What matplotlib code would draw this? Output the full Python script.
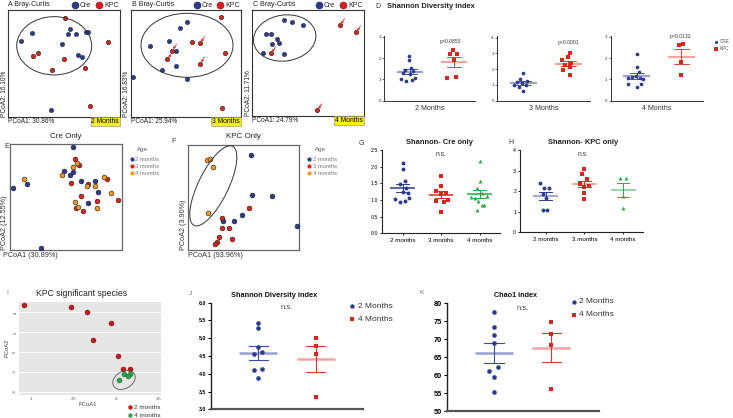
import numpy as np
import matplotlib
matplotlib.use('Agg')
import matplotlib.pyplot as plt
from matplotlib.patches import Ellipse

plt.rcParams['font.family'] = ['Liberation Sans', 'DejaVu Sans']

# ---------------- data ----------------
# A-C: Bray-Curtis PCoA scores (positions)
A_cre_x = [31.7, 20.7, 69.7, 67.7, 76, 86, 87.7, 62.3, 78, 82, 50.7]
A_cre_y = [33.3, 41, 29.3, 33.7, 34, 31.7, 32.3, 43.7, 54.7, 56.7, 110]
A_kpc_x = [65, 108.3, 32.7, 38.3, 64.3, 51.7, 85, 90]
A_kpc_y = [18.3, 41.7, 55.7, 52.7, 59, 70, 68.3, 105.7]

B_cre_x = [133.3, 149.7, 169, 176, 180, 186.7, 162, 176, 186.7]
B_cre_y = [76.7, 46, 40.7, 51, 28.3, 22.3, 69.7, 66.3, 79.3]
B_kpc_x = [220.7, 224.7, 172, 167.3, 200, 200, 221.7, 192]
B_kpc_y = [17.3, 53.3, 50.7, 59.3, 43.3, 63.7, 108.3, 42.3]
B_arrows = [2, 3, 4, 5]

C_cre_x = [284, 291.7, 302.7, 266, 271, 276.7, 272, 278.7, 263.3, 284]
C_cre_y = [20, 21.7, 25, 33.7, 33.7, 38.7, 44.3, 43.3, 53, 54]
C_kpc_x = [271, 340, 356, 317.3]
C_kpc_y = [53.3, 25.3, 32.3, 110.3]
C_arrows = [0, 1, 2, 3]

# E, F: PCoA by age
E_m2_x = [73.3, 12.7, 27.3, 64, 70.3, 73.3, 81, 95, 98.3, 88.3, 40.7]
E_m2_y = [146.7, 188.3, 184.3, 170.7, 174.7, 172, 180.7, 181.3, 192, 203.3, 248.3]
E_m3_x = [75, 79, 71, 88.3, 80.7, 97.3, 75.7, 83, 117.7, 106.7]
E_m3_y = [159.3, 165, 183.3, 184, 196, 201, 208.3, 210.7, 200.3, 179.3]
E_m4_x = [24.3, 73.3, 76.7, 62.3, 95, 87.3, 104.3, 111, 75.3, 78.3, 96.7]
E_m4_y = [178.7, 167.3, 162.7, 175.3, 185.7, 185.7, 177.3, 192.7, 201.7, 206.7, 207.7]

F_m2_x = [250.7, 252.3, 271.7, 296.7, 241.7, 234.3, 222.7]
F_m2_y = [155.3, 195, 196, 225.7, 215, 221, 221]
F_m3_x = [249, 221.7, 221.7, 229, 219.3, 232.3, 216.7, 215]
F_m3_y = [208.3, 217.7, 227.7, 227.7, 236.7, 239.3, 242.3, 244]
F_m4_x = [206.7, 210, 213.3, 208.3]
F_m4_y = [160, 159, 166.7, 212.7]

# D: Shannon diversity Cre vs KPC
D_months = ['2 Months', '3 Months', '4 Months']
D_cre = [[2.11, 1.91, 1.52, 1.45, 1.38, 1.28, 1.25, 1.05, 1.0, 0.95, 0.93],
         [1.73, 1.37, 1.26, 1.2, 1.09, 0.99, 0.99, 0.88, 0.61],
         [2.17, 1.56, 1.33, 1.16, 1.1, 1.05, 1.05, 1.0, 0.78, 0.78, 0.66]]
D_cre_dx = [[-0.03, -0.03, 0.02, -0.1, 0.08, -0.16, 0.0, 0.12, -0.2, 0.05, -0.08],
            [0.0, -0.08, 0.08, -0.15, -0.03, -0.22, 0.05, -0.1, 0.0],
            [0.0, 0.0, 0.05, -0.02, -0.1, 0.08, -0.2, 0.15, -0.2, 0.1, 0.0]]
D_kpc = [[2.38, 2.17, 2.17, 1.91, 1.08, 1.09],
         [3.03, 2.74, 2.57, 2.42, 2.25, 2.15, 1.94, 1.6],
         [2.61, 2.64, 1.8, 1.2]]
D_kpc_dx = [[-0.02, -0.08, 0.08, 0.0, -0.16, 0.05],
            [0.04, 0.0, -0.15, 0.06, -0.07, 0.03, -0.12, 0.04],
            [-0.06, 0.04, 0.0, 0.0]]
D_p = ['p=0.0853', 'p<0.0001', 'p=0.0132']

# G, H: Shannon within genotype by age
GH_ages = ['2 months', '3 months', '4 months']
G_vals = [[2.12, 1.93, 1.56, 1.47, 1.35, 1.25, 1.2, 1.05, 1.02, 0.97, 0.93],
          [1.73, 1.42, 1.27, 1.2, 1.18, 0.97, 0.95, 0.99, 0.65],
          [2.16, 1.58, 1.35, 1.22, 1.08, 1.12, 1.05, 0.97, 0.84, 0.85, 0.7]]
G_dx = [[0.0, 0.0, 0.06, -0.07, 0.1, 0.02, 0.14, 0.18, -0.19, 0.06, -0.07],
        [0.0, 0.0, -0.12, 0.12, 0.0, -0.12, 0.07, 0.17, 0.0],
        [0.0, 0.0, -0.07, 0.06, -0.22, 0.18, -0.11, -0.04, 0.06, 0.12, -0.07]]
H_vals = [[2.41, 2.17, 2.17, 1.86, 1.65, 1.1, 1.08],
          [3.06, 2.82, 2.57, 2.33, 2.22, 2.27, 1.93, 1.62],
          [2.62, 2.66, 1.78, 1.2]]
H_dx = [[-0.14, -0.03, 0.09, -0.08, 0.02, 0.04, -0.07],
        [0.0, -0.07, 0.07, -0.11, 0.0, 0.12, 0.0, 0.0],
        [-0.07, 0.06, 0.0, 0.0]]

# I: KPC significant species PCoA
I_m2_x = [0.191, 0.247, 0.266, 0.294, 0.273, 0.302, 0.308, 0.317]
I_m2_y = [0.473, 0.45, 0.403, 0.29, 0.12, -0.034, -0.167, -0.17]
I_m4_x = [0.309, 0.317, 0.314, 0.303]
I_m4_y = [-0.224, -0.22, -0.244, -0.284]

# J, K: 2 vs 4 months
JK_groups = ['2 Months', '4 Months']
J_m2 = [5.42, 5.28, 4.76, 4.55, 4.6, 4.1, 4.14, 3.88]
J_m2_dx = [0, 0, 0, -0.08, 0.07, -0.08, 0.07, 0]
J_m4 = [5.0, 4.79, 4.56, 3.35]
K_m2 = [77.6, 73.4, 71.1, 68.9, 61.2, 62.3, 59.4, 55.4]
K_m2_dx = [0, 0, 0, 0, -0.08, 0.07, 0, 0]
K_m4 = [74.7, 71.5, 68.3, 56.1]

# ---------------- style ----------------
BLUE = '#2d3b8e'
RED = '#d8261e'
ORANGE = '#f39a1e'
GREEN = '#2ea84a'
LBLUE = '#98a1d2'
PINK = '#f3a3a0'
LGREEN = '#8fd49c'
EDGE = '#1a1a1a'

W, H = 733, 418
fig = plt.figure(figsize=(W / 100, H / 100), dpi=100)


def ax_px(x0, y0, x1, y1):
    return fig.add_axes([x0 / W, 1 - y1 / H, (x1 - x0) / W, (y1 - y0) / H])


def pcoa_box(x0, y0, x1, y1, edge='#333333', lw=0.8):
    ax = ax_px(x0, y0, x1, y1)
    ax.set_xlim(x0, x1)
    ax.set_ylim(y1, y0)
    ax.set_xticks([])
    ax.set_yticks([])
    for s in ax.spines.values():
        s.set_color(edge)
        s.set_linewidth(lw)
    return ax


def mean_sem(ax, x, vals, lcol, ecol, hm, hc, lwm=1.8, lwe=0.7):
    v = np.asarray(vals, float)
    m = v.mean()
    s = v.std(ddof=1) / np.sqrt(len(v))
    ax.plot([x - hm, x + hm], [m, m], color=lcol, lw=lwm, solid_capstyle='butt', zorder=2, clip_on=False)
    ax.plot([x, x], [m - s, m + s], color=ecol, lw=lwe, zorder=2, clip_on=False)
    for yy in (m - s, m + s):
        ax.plot([x - hc, x + hc], [yy, yy], color=ecol, lw=lwe, zorder=2, clip_on=False)


# ---------- A-C ----------
boxes_ABC = [(8, 10, 120, 117), (131, 10, 240.7, 117), (252.3, 10, 364, 116)]
data_ABC = [(A_cre_x, A_cre_y, A_kpc_x, A_kpc_y, []),
            (B_cre_x, B_cre_y, B_kpc_x, B_kpc_y, B_arrows),
            (C_cre_x, C_cre_y, C_kpc_x, C_kpc_y, C_arrows)]
axes_ABC = []
for box, (cx, cy, kx, ky, arr) in zip(boxes_ABC, data_ABC):
    ax = pcoa_box(*box)
    ax.scatter(cx, cy, s=10, c=BLUE, edgecolors=EDGE, linewidths=0.3, zorder=3, clip_on=False)
    ax.scatter(kx, ky, s=10, c=RED, edgecolors=EDGE, linewidths=0.4, zorder=3, clip_on=False)
    for i in arr:
        ax.annotate('', xy=(kx[i] + 1.2, ky[i] - 1.5), xytext=(kx[i] + 4.5, ky[i] - 6.5),
                    arrowprops=dict(arrowstyle='-|>', color='#ee2020', lw=0.6,
                                    mutation_scale=3, shrinkA=0, shrinkB=0))
    axes_ABC.append(ax)

# ---------- E, F ----------
axE = pcoa_box(10, 144, 121.7, 250, edge='#666666', lw=0.9)
axF = pcoa_box(188.3, 144.7, 299, 250, edge='#666666', lw=0.9)
for ax, sets in ((axE, [(E_m2_x, E_m2_y, BLUE), (E_m3_x, E_m3_y, RED), (E_m4_x, E_m4_y, ORANGE)]),
                 (axF, [(F_m2_x, F_m2_y, BLUE), (F_m3_x, F_m3_y, RED), (F_m4_x, F_m4_y, ORANGE)])):
    for xs, ys, col in sets:
        ax.scatter(xs, ys, s=12, c=col, edgecolors=EDGE, linewidths=0.4, zorder=3, clip_on=False)

# ---------- D ----------
D_boxes = [(384.3, 35.7, 475, 100.7), (497.3, 36.3, 590, 100.7), (610.7, 35.7, 703, 100.7)]
D_ylims = [(0, 3.05), (0, 4.08), (0, 3.05)]
D_ticks = [[0, 1, 2, 3], [0, 1, 2, 3, 4], [0, 1, 2, 3]]
D_axes = []
for k in range(3):
    ax = ax_px(*D_boxes[k])
    ax.set_xlim(-0.58, 1.48)
    ax.set_ylim(*D_ylims[k])
    for s in ('top', 'right'):
        ax.spines[s].set_visible(False)
    for s in ('left', 'bottom'):
        ax.spines[s].set_color('#333333')
        ax.spines[s].set_linewidth(0.7)
    ax.set_xticks([])
    ax.set_yticks(D_ticks[k])
    ax.tick_params(axis='y', length=1.5, width=0.5, pad=1, labelsize=3.2, colors='#333333')
    ax.set_facecolor('none')
    ax.scatter(np.array(D_cre_dx[k]), D_cre[k], s=7, c=BLUE, marker='o', lw=0, zorder=3, clip_on=False)
    ax.scatter(1 + np.array(D_kpc_dx[k]), D_kpc[k], s=7, c=RED, marker='s', lw=0, zorder=3, clip_on=False)
    mean_sem(ax, 0, D_cre[k], LBLUE, BLUE, 0.3, 0.16, lwm=1.5, lwe=0.6)
    mean_sem(ax, 1, D_kpc[k], PINK, RED, 0.3, 0.16, lwm=1.5, lwe=0.6)
    D_axes.append(ax)

# ---------- G, H ----------
def age_panel(box, xlim, ylim, yticks, yfmt, vals, dxs, cols, lcols, markers):
    ax = ax_px(*box)
    ax.set_xlim(*xlim)
    ax.set_ylim(*ylim)
    for s in ('top', 'right'):
        ax.spines[s].set_visible(False)
    for s in ('left', 'bottom'):
        ax.spines[s].set_color('#222222')
        ax.spines[s].set_linewidth(0.8)
    ax.set_yticks(yticks)
    ax.set_yticklabels([yfmt % t for t in yticks])
    ax.set_xticks(range(3))
    ax.set_xticklabels(GH_ages)
    ax.tick_params(axis='y', length=1.8, width=0.6, pad=1, labelsize=3.8)
    ax.tick_params(axis='x', length=1.5, width=0.6, pad=2, labelsize=4.5)
    ax.set_facecolor('none')
    for i in range(3):
        ax.scatter(i + np.array(dxs[i]), vals[i], s=8, c=cols[i], marker=markers[i], lw=0, zorder=3, clip_on=False)
        mean_sem(ax, i, vals[i], lcols[i], cols[i], 0.32, 0.16, lwm=1.3, lwe=0.7)
    return ax

axG = age_panel((381.7, 150, 500, 233.3), (-0.54, 2.53), (0, 2.5), [0, 0.5, 1, 1.5, 2, 2.5], '%.1f',
                G_vals, G_dx, [BLUE, RED, GREEN], ['#4a5aa8', '#e04a40', '#45b860'], ['o', 's', '^'])
axH = age_panel((520, 150, 643, 232.3), (-0.66, 2.51), (0, 4), [0, 1, 2, 3, 4], '%d',
                H_vals, H_dx, [BLUE, RED, GREEN], [LBLUE, PINK, LGREEN], ['o', 's', '^'])

# ---------- I ----------
axI = ax_px(19.3, 301.7, 161, 395)
axI.set_facecolor('#e6e6e6')
axI.set_xlim(0.186, 0.353)
axI.set_ylim(-0.43, 0.506)
axI.set_yticks([-0.4, -0.2, 0, 0.2, 0.4])
axI.set_yticklabels(['-.4', '-.2', '0', '.2', '.4'], rotation=90, va='center')
axI.set_xticks([0.2, 0.25, 0.3, 0.35])
axI.set_xticklabels(['.2', '.25', '.3', '.35'])
axI.tick_params(length=0, labelsize=3, pad=1.5, colors='#444444')
axI.yaxis.grid(True, color='white', lw=0.7)
axI.set_axisbelow(True)
for s in axI.spines.values():
    s.set_visible(False)
axI.scatter(I_m2_x, I_m2_y, s=13, c='#c8161a', edgecolors='#7a0a0a', linewidths=0.3, zorder=3)
axI.scatter(I_m4_x, I_m4_y, s=13, c='#2fa24a', edgecolors='#145a20', linewidths=0.3, zorder=3)

# ---------- J, K ----------
def jk_panel(box, ylim, yticks, yfmt, a, adx, b, tsize):
    ax = ax_px(*box)
    ax.set_xlim(-0.824, 1.83)
    ax.set_ylim(*ylim)
    for s in ('top', 'right'):
        ax.spines[s].set_visible(False)
    ax.spines['left'].set_color('#222222')
    ax.spines['left'].set_linewidth(1.0)
    ax.spines['bottom'].set_color('#555555')
    ax.spines['bottom'].set_linewidth(1.6)
    ax.set_xticks([])
    ax.set_yticks(yticks)
    ax.set_yticklabels([yfmt % t for t in yticks], fontweight='bold')
    ax.tick_params(axis='y', length=2, width=0.8, pad=1.5, labelsize=tsize)
    ax.set_facecolor('none')
    ax.scatter(np.array(adx), a, s=11, c=BLUE, marker='o', lw=0, zorder=3, clip_on=False)
    ax.scatter(np.ones(len(b)), b, s=11, c=RED, marker='s', lw=0, zorder=3, clip_on=False)
    mean_sem(ax, 0, a, LBLUE, '#3a4aa0', 0.33, 0.17, lwm=1.8, lwe=0.8)
    mean_sem(ax, 1, b, PINK, '#e03530', 0.33, 0.17, lwm=1.8, lwe=0.8)
    return ax

axJ = jk_panel((211, 302.7, 363.3, 409.3), (3, 6), [3, 3.5, 4, 4.5, 5, 5.5, 6], '%.1f', J_m2, J_m2_dx, J_m4, 3.8)
axK = jk_panel((446.7, 303.3, 599, 411), (50, 80), [50, 55, 60, 65, 70, 75, 80], '%d', K_m2, K_m2_dx, K_m4, 5.3)

# ---------- overlay for text / legends / ellipses (pixel coords) ----------
ov = fig.add_axes([0, 0, 1, 1])
ov.set_xlim(0, W)
ov.set_ylim(H, 0)
ov.axis('off')
ov.set_zorder(10)


def t(x, y, s, size=5, ha='left', va='center', **kw):
    ov.text(x, y, s, fontsize=size, ha=ha, va=va, **kw)


def ell(cx, cy, w, h, ang, col='#333333', lw=0.7):
    ov.add_patch(Ellipse((cx, cy), w, h, angle=ang, fill=False, edgecolor=col, lw=lw))

# A-C headers and labels
hdr = [(8.3, 'A', 75, 99.3), (131.5, 'B', 196.7, 220), (253.3, 'C', 319, 343.3)]
for (x, L, bx, rx), (x0, y0, x1, y1), lab2, lab1, mon in zip(
        hdr, boxes_ABC, ['PCoA2: 16.10%', 'PCoA2: 16.83%', 'PCoA2: 11.71%'],
        ['PCoA1: 30.86%', 'PCoA1: 25.94%', 'PCoA1: 24.79%'], ['2 Months', '3 Months', '4 Months']):
    t(x, 5, L + ' Bray-Curtis', size=5, color='#222222')
    ov.scatter([bx], [5], s=26, c=BLUE, edgecolors='#111144', linewidths=0.3)
    t(bx + 5, 5.5, 'Cre', size=5, color='#222222')
    ov.scatter([rx], [5], s=26, c='#e01a1a', edgecolors='#661111', linewidths=0.3)
    t(rx + 5, 5.5, 'KPC', size=5, color='#222222')
    t(x0 - 7.5, y1, lab2, size=4.7, ha='left', va='bottom', rotation=90, color='#222222')
    t(x0, y1 + 4.5, lab1, size=4.7, color='#222222')
    t(x1 - 1, y1 + 4.3, mon, size=4.9, ha='right', color='black',
      bbox=dict(boxstyle='square,pad=0.12', facecolor='#f8f200', edgecolor='#888888', lw=0.4))

ell(54.2, 45.8, 75, 58.3, 0)
ell(187, 45.3, 92, 64, 0)
ell(284.7, 38, 62.7, 46, -8)

# E / F texts
t(4, 146, 'E', size=5, color='#333333')
t(66, 137, 'Cre Only', size=5.8, ha='center', color='#222222')
t(171.7, 141.7, 'F', size=5, color='#333333')
t(243.7, 137, 'KPC Only', size=5.8, ha='center', color='#222222')
for x0, y1, l2, l1, lx in ((10, 250, 'PCoA2 (12.55%)', 'PCoA1 (30.89%)', 131.7),
                           (188.3, 250, 'PCoA2 (3.90%)', 'PCoA1 (93.96%)', 309.3)):
    t(x0 - 8.5, y1, l2, size=5.2, va='bottom', rotation=90, color='#333333')
    t(x0 - 7 if x0 < 50 else x0, 255.5, l1, size=5.2, color='#333333')
    t(lx + 11, 150, 'Age', size=4.5, ha='center', color='#666666')
    for yy, col, lab in ((159.3, BLUE, '2 months'), (166, RED, '3 months'), (173.3, ORANGE, '4 months')):
        ov.scatter([lx], [yy], s=9, c=col, lw=0)
        t(lx + 3.5, yy, lab, size=4.2, color='#777777')
ell(213.3, 185.8, 88, 30, -64)

# D texts
t(375.7, 6, 'D', size=5, color='#333333')
t(386.7, 6, 'Shannon Diversity index', size=5.4, fontweight='bold', color='#222222')
for ax_box, lab, p, px, py in zip(D_boxes, D_months, D_p, [450.7, 568.3, 680.7], [41.7, 42.7, 36.7]):
    t((ax_box[0] + ax_box[2]) / 2, 108, lab, size=5, ha='center', color='#333333')
    t(px, py, p, size=3.7, ha='center', color='#333333')
ov.scatter([715.7], [41.7], s=5, c=BLUE, lw=0)
t(719.5, 41.7, 'CRE', size=3.3, color='#555555')
ov.scatter([715.7], [49], s=5, c=RED, marker='s', lw=0)
t(719.5, 49, 'KPC', size=3.3, color='#555555')

# G / H texts
t(358.3, 143.3, 'G', size=5, color='#333333')
t(439.3, 142.3, 'Shannon- Cre only', size=5.4, ha='center', fontweight='bold', color='#222222')
t(441, 154.3, 'n.s.', size=4.8, ha='center', color='#333333')
t(508.3, 142.7, 'H', size=5, color='#333333')
t(582.7, 142.3, 'Shannon- KPC only', size=5.4, ha='center', fontweight='bold', color='#222222')
t(582.7, 154.3, 'n.s.', size=4.8, ha='center', color='#333333')

# I texts
t(6, 293.3, 'I', size=5, color='#888888')
t(81.7, 293.3, 'KPC significant species', size=6.2, ha='center', color='#222222')
t(7.3, 348, 'PCoA2', size=4.2, ha='center', rotation=90, color='#444444')
t(87.3, 404.3, 'PCoA1', size=4.2, ha='center', color='#444444')
ov.scatter([130], [407.3], s=10, c='#c8161a', lw=0)
t(134.5, 407.3, '2 months', size=4.6, color='#333333')
ov.scatter([130], [415.3], s=10, c='#2fa24a', lw=0)
t(134.5, 415.3, '4 months', size=4.6, color='#333333')
ell(124, 380, 24, 17, -30, col='#555555', lw=0.6)

# J / K texts
t(189.3, 293.3, 'J', size=4.5, color='#666666')
t(274, 295.7, 'Shannon Diversity index', size=5.3, ha='center', fontweight='bold', color='#111111')
t(286.7, 307.3, 'n.s.', size=5.5, ha='center', color='#444444')
ov.scatter([352.3], [306], s=10, c=BLUE, lw=0)
t(357.5, 306, '2 Months', size=6, color='#333333')
ov.scatter([352.3], [319.3], s=10, c=RED, marker='s', lw=0)
t(357.5, 319.3, '4 Months', size=6, color='#333333')

t(420, 292.7, 'K', size=4.5, color='#666666')
t(515, 295.3, 'Chao1 index', size=5.2, ha='center', fontweight='bold', color='#111111')
t(522.7, 308.3, 'n.s.', size=5.5, ha='center', color='#444444')
ov.scatter([574], [301.7], s=10, c=BLUE, lw=0)
t(579.3, 301.7, '2 Months', size=6, color='#333333')
ov.scatter([574], [314.7], s=10, c=RED, marker='s', lw=0)
t(579.3, 314.7, '4 Months', size=6, color='#333333')

fig.savefig('out.png', dpi=100)
